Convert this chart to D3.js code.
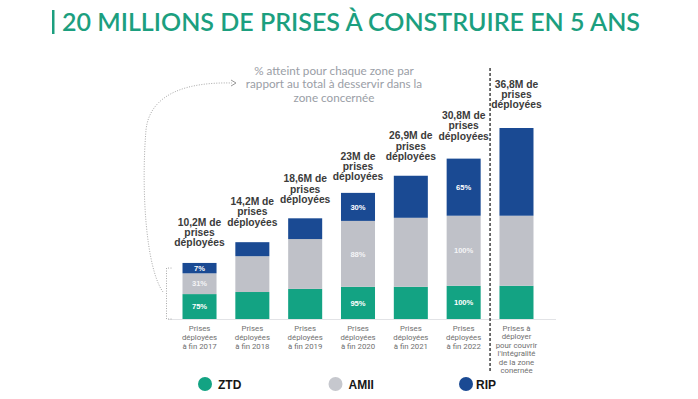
<!DOCTYPE html>
<html>
<head>
<meta charset="utf-8">
<script src="https://cdn.jsdelivr.net/npm/d3@7"></script>
<style>
  body { margin: 0; background: #fff; }
  svg { display: block; }
</style>
</head>
<body>
<div id="main"></div>
<script>
const width = 698;
const height = 399;

const categories = ["2017", "2018", "2019", "2020", "2021", "2022", "total"];
const xLabels = [
    ["Prises", "déployées", "à fin 2017"],
    ["Prises", "déployées", "à fin 2018"],
    ["Prises", "déployées", "à fin 2019"],
    ["Prises", "déployées", "à fin 2020"],
    ["Prises", "déployées", "à fin 2021"],
    ["Prises", "déployées", "à fin 2022"],
    ["Prises  à", "déployer", "pour couvrir", "l'intégralité", "de la zone", "conernée"]
];
const totalValues = [10.2, 14.2, 18.6, 23, 26.9, 30.8, 36.8];
const totalLabels = ["10,2M de", "14,2M de", "18,6M de", "23M de", "26,9M de", "30,8M de", "36,8M de"];

const ztd = [4.8, 5.2, 5.8, 6.2, 6.2, 6.4, 6.4];
const amii = [4.0, 6.9, 9.6, 12.7, 13.3, 13.5, 13.5];
const rip = [2.0, 2.7, 4.0, 5.4, 8.1, 11.0, 16.9];

const pctZtd = ["75%", "", "", "95%", "", "100%", ""];
const pctAmii = ["31%", "", "", "88%", "", "100%", ""];
const pctRip = ["7%", "", "", "30%", "", "65%", ""];

const keys = ["ZTD", "AMII", "RIP"];
const colors = { ZTD: "#13a383", AMII: "#bfc1c8", RIP: "#1a4a93" };
const legendColors = { ZTD: "#13a383", AMII: "#c6c8ce", RIP: "#1a4a93" };

const rows = categories.map((c, i) => ({
    cat: c, ZTD: ztd[i], AMII: amii[i], RIP: rip[i],
    pct: { ZTD: pctZtd[i], AMII: pctAmii[i], RIP: pctRip[i] }
}));

const svg = d3.select("#main")
    .append("svg")
    .attr("width", width)
    .attr("height", height);

// titre
svg.append("rect")
    .attr("x", 52).attr("y", 10)
    .attr("width", 2.5).attr("height", 24)
    .attr("fill", "#1c9f7f");
svg.append("text")
    .attr("x", 62).attr("y", 31)
    .attr("font-family", "Lato")
    .attr("font-weight", 600)
    .attr("font-size", 24)
    .attr("fill", "#1c9f7f")
    .attr("textLength", 578)
    .attr("lengthAdjust", "spacingAndGlyphs")
    .text("20 MILLIONS DE PRISES À CONSTRUIRE EN 5 ANS");

const xScale = d3.scaleBand()
    .domain(categories)
    .range([173, 543])
    .paddingInner(0.356)
    .paddingOuter(0.18);

const yScale = d3.scaleLinear()
    .domain([0, 36.8])
    .range([319, 128]);

// ligne de base
svg.append("line")
    .attr("x1", 168).attr("x2", 556)
    .attr("y1", yScale(0) + 0.5).attr("y2", yScale(0) + 0.5)
    .attr("stroke", "#e2e3e6")
    .attr("stroke-width", 1);

const series = d3.stack().keys(keys)(rows);

const groups = svg.selectAll("g.serie")
    .data(series)
    .enter()
    .append("g")
    .attr("class", "serie")
    .attr("fill", (d) => colors[d.key]);

groups.selectAll("rect")
    .data((d) => d)
    .enter()
    .append("rect")
    .attr("x", (d) => xScale(d.data.cat))
    .attr("y", (d) => yScale(d[1]))
    .attr("width", xScale.bandwidth())
    .attr("height", (d) => yScale(d[0]) - yScale(d[1]));

// pourcentages dans les segments
series.forEach((s) => {
    svg.append("g")
        .selectAll("text")
        .data(s)
        .enter()
        .append("text")
        .attr("x", (d) => xScale(d.data.cat) + xScale.bandwidth() / 2)
        .attr("y", (d) => (yScale(d[0]) + yScale(d[1])) / 2 + 2.7)
        .attr("text-anchor", "middle")
        .attr("font-family", "Liberation Sans, Arial")
        .attr("font-weight", "bold")
        .attr("font-size", 7.6)
        .attr("fill", s.key == "AMII" ? "#f4f4f6" : "#ffffff")
        .text((d) => d.data.pct[s.key]);
});

// étiquettes au-dessus des barres
const topLabels = svg.append("g")
    .selectAll("text")
    .data(categories)
    .enter()
    .append("text")
    .attr("text-anchor", "middle")
    .attr("font-family", "Liberation Sans, Arial")
    .attr("font-weight", "bold")
    .attr("font-size", 10.3)
    .attr("fill", "#3b3b3b")
    .attr("transform", (d, i) =>
        "translate(" + (xScale(d) + xScale.bandwidth() / 2) + "," + (yScale(totalValues[i]) - 40) + ")");

topLabels.each(function (d, i) {
    const t = d3.select(this);
    [totalLabels[i], "prises", "déployées"].forEach((line, j) => {
        t.append("tspan").attr("x", 0).attr("y", j * 10.2).text(line);
    });
});

// libellés de l'axe x
const xText = svg.append("g")
    .selectAll("text")
    .data(categories)
    .enter()
    .append("text")
    .attr("text-anchor", "middle")
    .attr("font-family", "Roboto")
    .attr("font-size", 7.8)
    .attr("fill", "#6f6f6f")
    .attr("transform", (d) =>
        "translate(" + (xScale(d) + xScale.bandwidth() / 2) + "," + (yScale(0) + 11.5) + ")");

xText.each(function (d, i) {
    const t = d3.select(this);
    const step = i == 6 ? 8.5 : 9;
    xLabels[i].forEach((line, j) => {
        t.append("tspan").attr("x", 0).attr("y", j * step).text(line);
    });
});

// séparateur pointillé
const sepX = (xScale("2022") + xScale.bandwidth() + xScale("total")) / 2;
svg.append("line")
    .attr("x1", sepX).attr("x2", sepX)
    .attr("y1", 68).attr("y2", 371)
    .attr("stroke", "#4d4d4d")
    .attr("stroke-width", 1.6)
    .attr("stroke-dasharray", "3,2");

// annotation
const note = svg.append("text")
    .attr("text-anchor", "middle")
    .attr("font-family", "Lato")
    .attr("font-size", 11.7)
    .attr("fill", "#9a9ea6")
    .attr("transform", "translate(334,74.5)");
["% atteint pour chaque zone par", "rapport au total à desservir dans la", "zone concernée"]
    .forEach((line, j) => {
        note.append("tspan").attr("x", 0).attr("y", j * 13.5).text(line);
    });

const b1 = xScale("2017");
svg.append("path")
    .attr("d", "M" + (b1 - 11) + "," + (yScale(totalValues[0]) + 2) +
        " H" + (b1 - 16) + " V" + yScale(0) + " H" + (b1 - 11))
    .attr("fill", "none")
    .attr("stroke", "#a8a8a8")
    .attr("stroke-width", 1)
    .attr("stroke-dasharray", "1,1.5");

svg.append("path")
    .attr("d", "M163,292 C146,268 141,190 146,130 C150,92 190,82 232,83")
    .attr("fill", "none")
    .attr("stroke", "#a8a8a8")
    .attr("stroke-width", 1)
    .attr("stroke-dasharray", "1,1.5");
svg.append("path")
    .attr("d", "M231,80 L236,83 L231,86")
    .attr("fill", "none")
    .attr("stroke", "#999")
    .attr("stroke-width", 1);

// légende
const legendX = d3.scalePoint()
    .domain(keys)
    .range([205, 466]);

const legend = svg.append("g")
    .selectAll("g")
    .data(keys)
    .enter()
    .append("g")
    .attr("transform", (d) => "translate(" + legendX(d) + ",384)");

legend.append("circle")
    .attr("r", 7)
    .attr("fill", (d) => legendColors[d]);

legend.append("text")
    .attr("x", (d) => d == "RIP" ? 10 : 13)
    .attr("y", 5)
    .attr("font-family", "Liberation Sans, Arial")
    .attr("font-weight", "bold")
    .attr("font-size", 12)
    .attr("fill", "#161616")
    .text((d) => d);
</script>
</body>
</html>
